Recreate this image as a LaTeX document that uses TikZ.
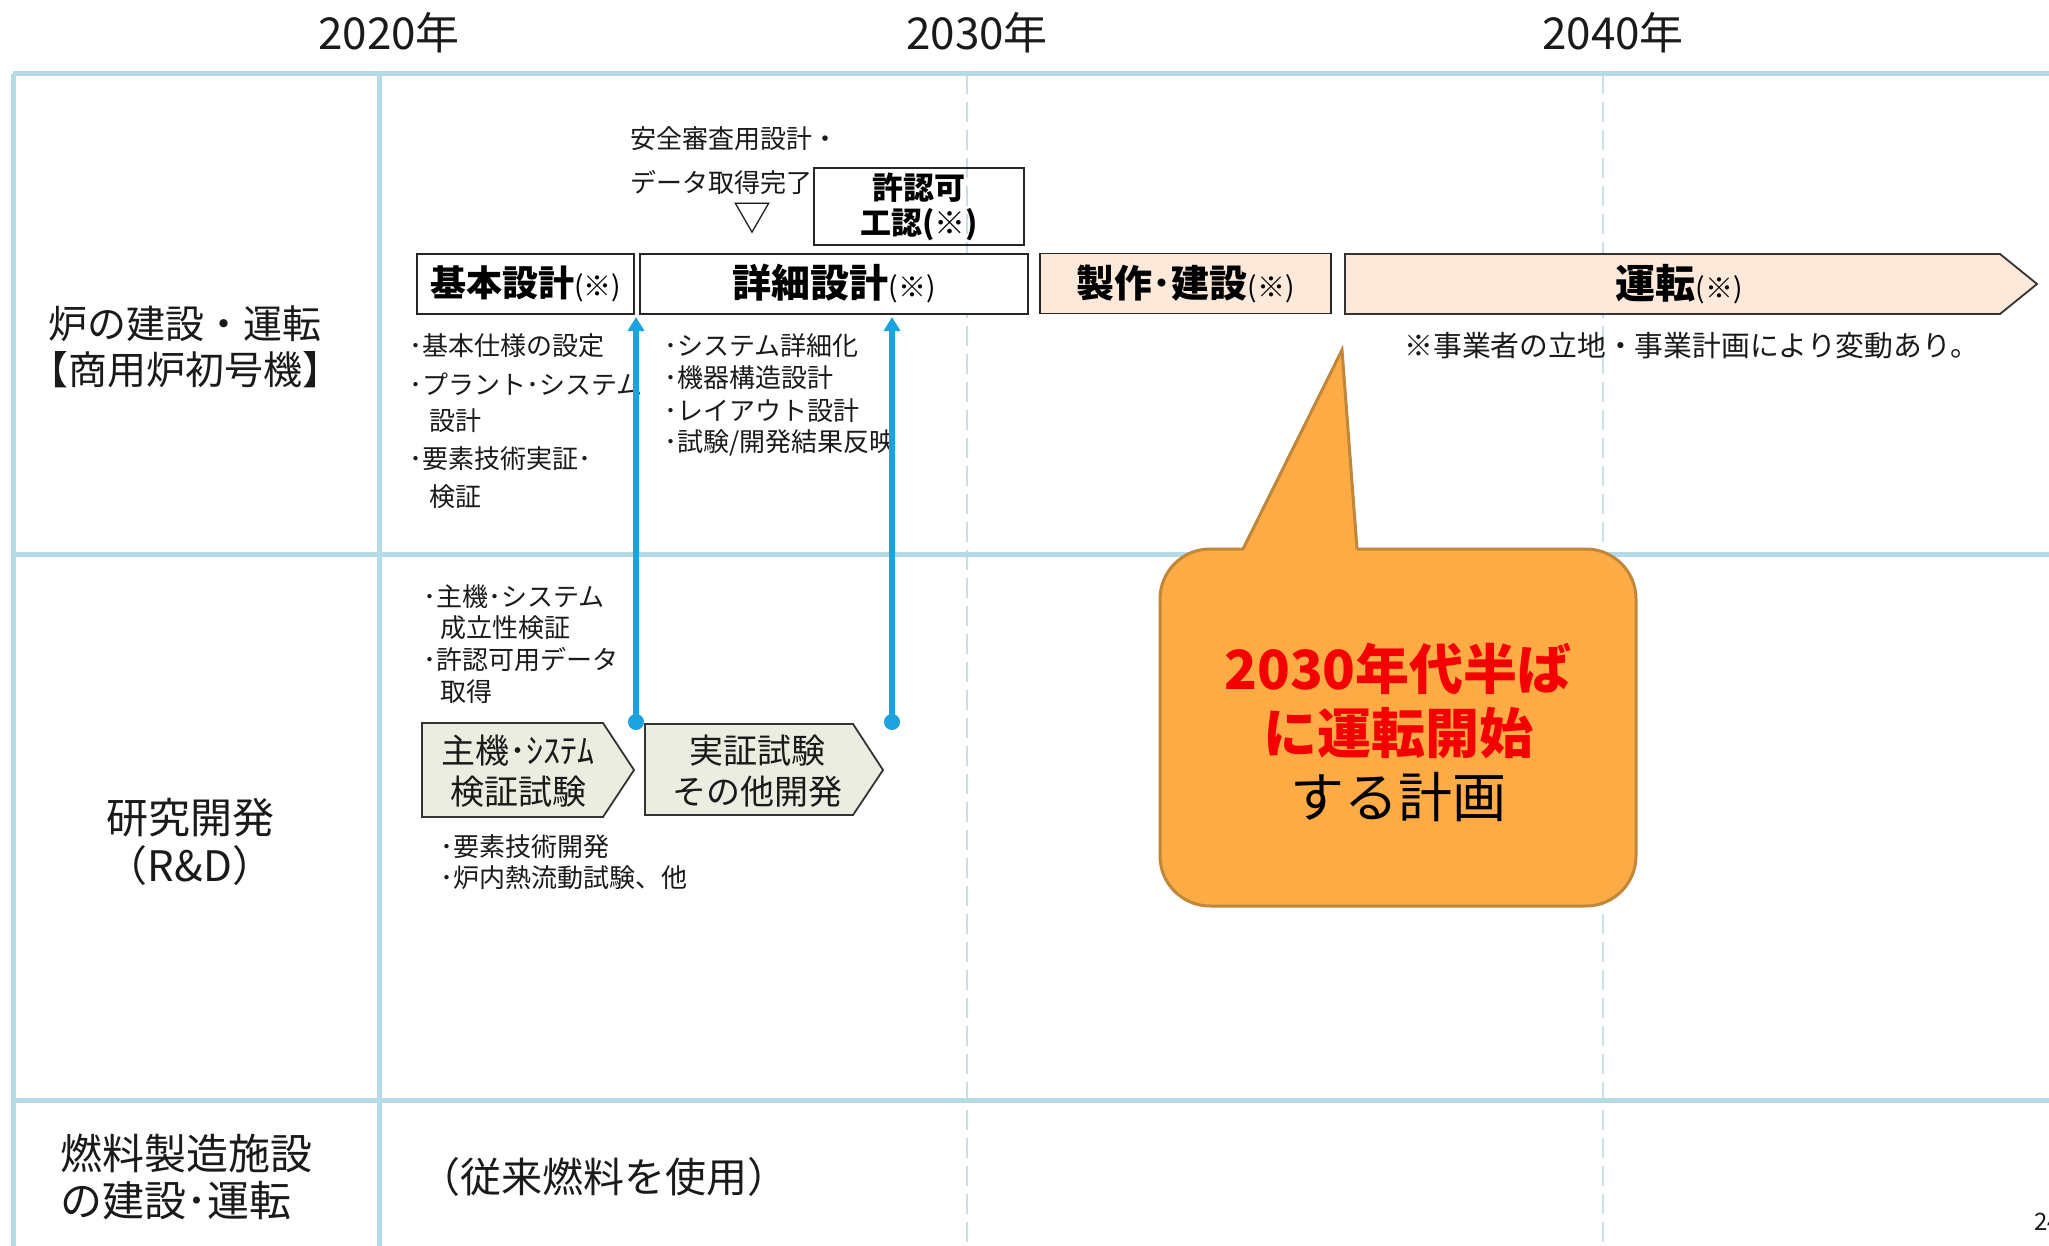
\documentclass[tikz,border=0pt]{standalone}
\usepackage{fontspec}
\setmainfont{Noto Sans CJK JP}
\usetikzlibrary{arrows.meta}
\definecolor{gridc}{HTML}{B5DCE6}
\definecolor{dashc}{HTML}{C9DEE6}
\definecolor{peach}{HTML}{FDE9D9}
\definecolor{sage}{HTML}{ECEDE1}
\definecolor{arrblue}{HTML}{1AA3DF}
\definecolor{callfill}{HTML}{FDAB45}
\definecolor{calledge}{HTML}{C0863A}
\definecolor{callred}{HTML}{F50000}
\definecolor{txt}{HTML}{1A1A1A}
\newcommand{\fsz}[2]{\fontsize{#1}{#2}\selectfont}
\begin{document}
\begin{tikzpicture}[x=0.5pt,y=-0.5pt,
  gridline/.style={draw=gridc,line width=2.5pt},
  yearline/.style={draw=dashc,line width=1.3pt,dash pattern=on 10pt off 4pt},
  phasebox/.style={draw=black!85,line width=0.9pt,inner sep=0pt,minimum height=30pt},
  shapeline/.style={draw=black!80,line width=0.9pt},
  bul/.style={anchor=west,inner sep=0pt,text=txt,font=\fsz{13pt}{15pt}},
  yearlbl/.style={inner sep=0pt,text=txt,font=\fsz{22pt}{24pt}},
  bluearr/.style={draw=arrblue,line width=2.75pt,-{Triangle[length=7pt,width=8pt]}},
  bluedot/.style={fill=arrblue},
]
\useasboundingbox (0,0) rectangle (2049,1246);
\fill[white] (0,0) rectangle (2049,1246);

% year labels
\node[yearlbl] (y2020) at (389,33) {2020年};
\node[yearlbl] (y2030) at (977,33) {2030年};
\node[yearlbl] (y2040) at (1613,33) {2040年};

% grid
\draw[yearline] (967,74) -- (967,1246);
\draw[yearline] (1603,74) -- (1603,1246);
\draw[gridline] (13,74) -- (2049,74);
\draw[gridline] (13,74) -- (13,1246);
\draw[gridline] (379,74) -- (379,1246);
\draw[gridline] (13,554) -- (2049,554);
\draw[gridline] (13,1100) -- (2049,1100);

% row labels
\node[align=center,inner sep=0pt,text=txt,font=\fsz{19.5pt}{23pt}] (row1) at (185,347) {炉の建設・運転\\【商用炉初号機】};
\node[align=center,inner sep=0pt,text=txt,font=\fsz{21pt}{24pt}] (row2) at (190,842) {研究開発\\（R\&D）};
\node[align=left,anchor=west,inner sep=0pt,text=txt,font=\fsz{21pt}{23.5pt}] (row3) at (60,1177) {燃料製造施設\\の建設･運転};
\node[anchor=west,inner sep=0pt,text=txt,font=\fsz{20.5pt}{22pt}] (fuel) at (419,1177) {（従来燃料を使用）};

% phase boxes
\node[phasebox,minimum width=108.5pt,fill=white] (kihon) at (525.5,284) {\fsz{18pt}{20pt}\bfseries 基本設計{\fsz{14pt}{16pt}\mdseries(※)}};
\node[phasebox,minimum width=194pt,fill=white] (shosai) at (834,284) {\fsz{19.5pt}{21pt}\bfseries 詳細設計{\fsz{14pt}{16pt}\mdseries(※)}};
\node[phasebox,minimum width=145.5pt,fill=peach] (seisaku) at (1185.5,283.5) {\fsz{19pt}{20pt}\bfseries 製作･建設{\fsz{14pt}{16pt}\mdseries(※)}};
\draw[shapeline,fill=peach] (1345,254) -- (2000,254) -- (2037,284) -- (2000,314) -- (1345,314) -- cycle;
\node[inner sep=0pt] (unten) at (1679,284) {\fsz{20pt}{21pt}\bfseries 運転{\fsz{14pt}{16pt}\mdseries(※)}};
\node[phasebox,minimum width=105pt,minimum height=38.5pt,align=center,font=\fsz{15.5pt}{17.5pt}\bfseries] (kyoninka) at (919,206.5) {許認可\\工認(※)};

% milestone
\node[bul] (anzen1) at (630,139) {安全審査用設計・};
\node[bul] (anzen2) at (630,182) {データ取得完了};
\node[inner sep=0pt,text=txt,font=\fsz{19pt}{20pt}] (tri) at (752,219) {▽};

\node[anchor=west,inner sep=0pt,text=txt,font=\fsz{14.4pt}{16pt}] (note) at (1404,346) {※事業者の立地・事業計画により変動あり。};

% bullets under basic design
\node[bul] (kb1) at (409,346) {･基本仕様の設定};
\node[bul] (kb2) at (409,384) {･プラント･システム};
\node[bul] (kb3) at (429,421) {設計};
\node[bul] (kb4) at (409,459) {･要素技術実証･};
\node[bul] (kb5) at (429,497) {検証};

% bullets under detailed design
\node[bul] (sb1) at (664,346) {･システム詳細化};
\node[bul] (sb2) at (664,378) {･機器構造設計};
\node[bul] (sb3) at (664,411) {･レイアウト設計};
\node[bul] (sb4) at (664,443) {･試験/開発結果反映};

% R&D bullets
\node[bul] (rb1) at (423,597) {･主機･システム};
\node[bul] (rb2) at (440,628) {成立性検証};
\node[bul] (rb3) at (423,660) {･許認可用データ};
\node[bul] (rb4) at (440,692) {取得};
\node[bul] (rb5) at (440,847) {･要素技術開発};
\node[bul] (rb6) at (440,878) {･炉内熱流動試験、他};

% R&D pentagons
\draw[shapeline,fill=sage] (422,723) -- (603,723) -- (634,770) -- (603,817) -- (422,817) -- cycle;
\node[align=center,inner sep=0pt,text=txt,font=\fsz{17pt}{20.5pt}] (pent1) at (518,771) {主機･ｼｽﾃﾑ\\検証試験};
\draw[shapeline,fill=sage] (645,724) -- (853,724) -- (883,770) -- (853,815) -- (645,815) -- cycle;
\node[align=center,inner sep=0pt,text=txt,font=\fsz{17pt}{20.5pt}] (pent2) at (757,771) {実証試験\\その他開発};

% blue feedback arrows
\coordinate (d1) at (636,722);
\coordinate (t1) at (636,317);
\coordinate (d2) at (892,722);
\coordinate (t2) at (892,317);
\draw[bluearr] (d1) -- (t1);
\draw[bluearr] (d2) -- (t2);
\fill[bluedot] (d1) circle (4pt);
\fill[bluedot] (d2) circle (4pt);

% callout
\draw[fill=callfill,draw=calledge,line width=1.5pt,rounded corners=25pt] (1160,549) rectangle (1636,906);
\fill[callfill] (1243,552) -- (1342,350) -- (1357,552) -- cycle;
\draw[draw=calledge,line width=1.5pt,line join=miter] (1243,549) -- (1342,350) -- (1357,549);
\node[align=center,inner sep=0pt,font=\fsz{27pt}{32pt}] (calltxt) at (1398,732) {\textcolor{callred}{\bfseries 2030年代半ば}\\\textcolor{callred}{\bfseries に運転開始}\\する計画};

% page number (cut by edge, as in the reference)
\node[anchor=west,inner sep=0pt,text=txt,font=\fsz{12pt}{14pt}] (pagenum) at (2034,1222) {24};
\end{tikzpicture}
\end{document}
